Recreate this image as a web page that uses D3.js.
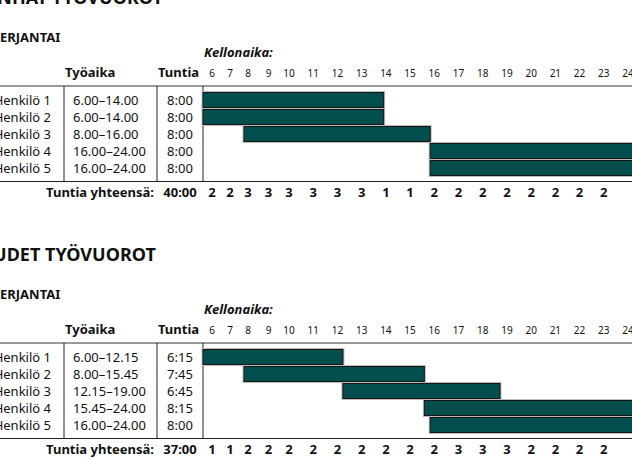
<!DOCTYPE html>
<html lang="fi">
<head>
<meta charset="UTF-8">
<title>Työvuorot</title>
<script src="https://d3js.org/d3.v7.min.js"></script>
<style>
    body { margin: 0; background: #fff; }
    svg { display: block; font-family: "Noto Sans", sans-serif; fill: #111; }
    .title { font-size: 18px; font-weight: bold; }
    .day { font-size: 13px; font-weight: bold; }
    .head { font-size: 13px; font-weight: bold; }
    .cell { font-size: 13px; }
    .tick { font-size: 10px; }
    .total { font-size: 13px; font-weight: bold; }
</style>
</head>
<body>
<svg width="632" height="460"></svg>
<script>
// Data
const clockTicks = [6, 7, 8, 9, 10, 11, 12, 13, 14, 15, 16, 17, 18, 19, 20, 21, 22, 23, 24];
const countHours = [6, 7, 8, 9, 10, 11, 12, 13, 14, 15, 16, 17, 18, 19, 20, 21, 22, 23];
const persons = ["Henkilö 1", "Henkilö 2", "Henkilö 3", "Henkilö 4", "Henkilö 5"];

const oldTimes = ["6.00–14.00", "6.00–14.00", "8.00–16.00", "16.00–24.00", "16.00–24.00"];
const oldStart = [6, 6, 8, 16, 16];
const oldEnd = [14, 14, 16, 24, 24];
const oldHours = ["8:00", "8:00", "8:00", "8:00", "8:00"];
const oldTotal = "40:00";
const oldCounts = [2, 2, 3, 3, 3, 3, 3, 3, 1, 1, 2, 2, 2, 2, 2, 2, 2, 2];

const newTimes = ["6.00–12.15", "8.00–15.45", "12.15–19.00", "15.45–24.00", "16.00–24.00"];
const newStart = [6, 8, 12.25, 15.75, 16];
const newEnd = [12.25, 15.75, 19, 24, 24];
const newHours = ["6:15", "7:45", "6:45", "8:15", "8:00"];
const newTotal = "37:00";
const newCounts = [1, 1, 2, 2, 2, 2, 2, 2, 2, 2, 2, 3, 3, 3, 2, 2, 2, 2];

const svg = d3.select("svg");

// clock scale for the bars, and one for the column labels
const x = d3.scaleLinear().domain([6, 8, 19, 24]).range([203, 244, 500, 640]);
const xLabel = d3.scaleLinear().domain([6, 8, 10, 24]).range([212, 248, 289, 628]);
const y = d3.scaleBand().domain(persons).range([91.5, 176.5]).paddingInner(0.12).paddingOuter(0.06);

// put text so that character `idx` starts at `targetX` (the rest is cut off at the left)
function placeCut(sel, idx, targetX) {
    const pos = sel.node().getStartPositionOfChar(idx).x;
    sel.attr("x", targetX - pos);
}

function drawSchedule(offsetY, title, titleIdx, titleX, times, start, end, hours, total, counts) {
    const g = svg.append("g").attr("transform", `translate(0,${offsetY})`);

    const t = g.append("text").attr("class", "title").attr("x", 0).attr("y", 3.5).text(title);
    placeCut(t, titleIdx, titleX);

    const d = g.append("text").attr("class", "day").attr("x", 0).attr("y", 42).text("PERJANTAI");
    placeCut(d, 1, 0);

    g.append("text").attr("class", "head").attr("x", 204).attr("y", 57)
        .style("font-style", "italic").text("Kellonaika:");
    g.append("text").attr("class", "head").attr("x", 65).attr("y", 77).text("Työaika");
    g.append("text").attr("class", "head").attr("x", 158).attr("y", 77).text("Tuntia");

    g.selectAll(".tick").data(clockTicks).join("text")
        .attr("class", "tick")
        .attr("x", h => xLabel(h)).attr("y", 77)
        .attr("text-anchor", "middle")
        .text(h => h);

    // table lines
    const top = 86, bottom = 181.5;
    g.append("line").attr("x1", 0).attr("x2", 632).attr("y1", top).attr("y2", top)
        .attr("stroke", "#777").attr("stroke-width", 1.6);
    g.append("line").attr("x1", 0).attr("x2", 632).attr("y1", bottom).attr("y2", bottom)
        .attr("stroke", "#222").attr("stroke-width", 1.2);
    g.selectAll(".vline").data([64, 157, 203]).join("line")
        .attr("class", "vline")
        .attr("x1", v => v).attr("x2", v => v)
        .attr("y1", top).attr("y2", bottom)
        .attr("stroke", "#222").attr("stroke-width", 1);

    const rows = persons.map((p, i) => ({ p, time: times[i], s: start[i], e: end[i], h: hours[i] }));

    // bars: light halo then dark border
    g.selectAll(".halo").data(rows).join("rect")
        .attr("class", "halo")
        .attr("x", r => x(r.s)).attr("y", r => y(r.p))
        .attr("width", r => x(r.e) - x(r.s)).attr("height", y.bandwidth())
        .attr("fill", "none").attr("stroke", "#bbb").attr("stroke-width", 3);
    g.selectAll(".bar").data(rows).join("rect")
        .attr("class", "bar")
        .attr("x", r => x(r.s)).attr("y", r => y(r.p))
        .attr("width", r => x(r.e) - x(r.s)).attr("height", y.bandwidth())
        .attr("fill", "#034f4d").attr("stroke", "#151515").attr("stroke-width", 1);

    const mid = r => y(r.p) + y.bandwidth() / 2;
    g.selectAll(".name").data(rows).join("text")
        .attr("class", "cell name")
        .attr("x", 51).attr("y", mid).attr("dy", "0.36em")
        .attr("text-anchor", "end").text(r => r.p);
    g.selectAll(".time").data(rows).join("text")
        .attr("class", "cell time")
        .attr("x", 73).attr("y", mid).attr("dy", "0.36em")
        .text(r => r.time);
    g.selectAll(".hours").data(rows).join("text")
        .attr("class", "cell hours")
        .attr("x", 180).attr("y", mid).attr("dy", "0.36em")
        .attr("text-anchor", "middle").text(r => r.h);

    // totals row
    g.append("text").attr("class", "total").attr("x", 154).attr("y", 197)
        .attr("text-anchor", "end").text("Tuntia yhteensä:");
    g.append("text").attr("class", "total").attr("x", 180).attr("y", 197)
        .attr("text-anchor", "middle").text(total);
    g.selectAll(".count").data(countHours).join("text")
        .attr("class", "total count")
        .attr("x", h => xLabel(h)).attr("y", 197)
        .attr("text-anchor", "middle")
        .text((h, i) => counts[i]);
}

drawSchedule(0, "VANHAT TYÖVUOROT", 7, 52, oldTimes, oldStart, oldEnd, oldHours, oldTotal, oldCounts);
drawSchedule(257, "UUDET TYÖVUOROT", 6, 45, newTimes, newStart, newEnd, newHours, newTotal, newCounts);
</script>
</body>
</html>
